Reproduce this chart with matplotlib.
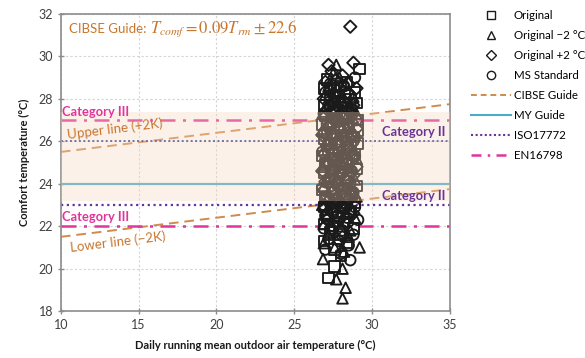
import matplotlib
matplotlib.use("Agg")
import matplotlib.pyplot as plt
from matplotlib.lines import Line2D
import numpy as np

plt.rcParams['font.family'] = ['Lato', 'DejaVu Sans']
plt.rcParams['mathtext.fontset'] = 'stix'

# ---- comfort observations (running mean outdoor temp, comfort temp) ----
orig_x = [29.2, 27.1, 28.4, 26.9, 27.6, 28.0, 28.9, 27.3, 27.8, 28.6, 29.0, 26.9, 27.5, 28.2, 28.7, 27.0,
          27.7, 28.3, 29.1, 26.8, 27.4, 27.9, 28.5, 29.1, 27.1, 27.7, 28.2, 28.8, 26.9, 27.4, 28.0, 28.6,
          29.1, 27.2, 27.8, 28.4, 28.9, 26.8, 27.5, 28.1, 28.7, 27.0, 27.6, 28.3, 29.0, 26.9, 27.4, 27.9,
          28.5, 27.2, 27.8, 28.4, 29.0, 26.8, 27.5, 28.1, 28.7, 27.0, 27.7, 28.3, 28.9, 26.9, 27.4, 28.0,
          28.6, 27.1, 27.8, 28.5, 26.9, 27.5, 28.2, 28.8, 27.3, 27.9, 26.9, 28.4, 27.6, 28.0, 27.6, 27.2]
orig_y = [29.4, 28.9, 28.8, 28.5, 28.4, 28.6, 28.3, 28.1, 27.9, 28.0, 27.8, 27.7, 27.5, 27.6, 27.4, 27.2,
          27.1, 27.3, 27.0, 26.8, 26.9, 26.7, 26.8, 26.5, 26.4, 26.3, 26.5, 26.2, 26.1, 25.9, 26.0, 25.8,
          25.9, 25.6, 25.5, 25.7, 25.4, 25.3, 25.2, 25.1, 25.2, 24.9, 24.8, 24.9, 24.7, 24.5, 24.4, 24.6,
          24.3, 24.1, 24.0, 24.1, 23.9, 23.7, 23.6, 23.8, 23.5, 23.3, 23.2, 23.4, 23.1, 22.9, 22.8, 22.9,
          22.7, 22.5, 22.4, 22.6, 22.1, 22.0, 22.2, 21.9, 21.7, 21.6, 21.3, 21.2, 20.9, 20.6, 20.1, 19.55]

minus2_x = [27.7, 27.5, 27.9, 27.2, 28.3, 27.0, 27.6, 28.8, 27.3, 28.1, 28.6, 26.9, 27.8, 28.4, 29.0, 27.2,
            27.9, 28.6, 26.8, 27.5, 28.2, 28.9, 27.1, 27.7, 28.4, 26.9, 27.5, 28.1, 28.8, 27.2, 27.9, 28.5,
            29.0, 26.8, 27.4, 28.0, 28.7, 27.1, 27.7, 28.3, 28.9, 26.9, 27.5, 28.1, 28.6, 27.2, 27.8, 28.4,
            29.0, 26.8, 27.5, 28.1, 28.7, 27.0, 27.6, 28.3, 28.9, 26.9, 27.4, 28.0, 28.6, 27.2, 27.8, 28.5,
            29.2, 26.9, 27.6, 28.2, 26.85, 28.1, 27.7, 28.3, 28.1]
minus2_y = [29.6, 29.2, 29.0, 28.6, 28.7, 28.2, 28.3, 28.1, 27.8, 27.9, 27.6, 27.4, 27.3, 27.2, 27.3, 26.9,
            27.0, 26.7, 26.5, 26.6, 26.4, 26.3, 26.0, 26.1, 25.9, 25.6, 25.7, 25.5, 25.6, 25.1, 25.3, 25.0,
            25.2, 24.8, 24.7, 24.6, 24.8, 24.3, 24.2, 24.4, 24.2, 23.9, 23.8, 23.9, 23.7, 23.4, 23.5, 23.3,
            23.4, 23.0, 22.9, 23.1, 22.8, 22.6, 22.5, 22.6, 22.4, 22.1, 21.9, 22.0, 21.8, 21.6, 21.4, 21.5,
            21.0, 21.2, 21.0, 20.8, 20.45, 20.0, 19.5, 19.1, 18.6]

plus2_x = [28.6, 27.2, 28.8, 27.4, 28.1, 27.0, 27.7, 28.5, 29.0, 27.3, 27.9, 28.4, 26.9, 27.6, 28.2, 28.8,
           27.1, 27.8, 28.5, 26.9, 27.5, 28.1, 28.7, 27.2, 27.9, 28.4, 29.0, 26.8, 27.5, 28.2, 28.8, 27.1,
           27.7, 28.4, 26.9, 27.4, 28.0, 28.6, 27.2, 27.9, 28.5, 29.0, 26.8, 27.5, 28.1, 28.8, 27.0, 27.7,
           28.3, 26.9, 27.4, 28.0, 28.6, 27.2, 27.9, 28.5, 26.9, 27.6, 28.2, 28.8, 27.1, 27.8, 28.4, 27.4, 28.1]
plus2_y = [31.4, 29.6, 29.7, 29.3, 29.1, 28.8, 28.9, 28.7, 28.5, 28.4, 28.2, 28.3, 28.0, 27.8, 27.9, 27.7,
           27.5, 27.6, 27.4, 27.1, 27.0, 27.2, 26.9, 26.7, 26.6, 26.8, 26.6, 26.3, 26.2, 26.1, 26.3, 25.8,
           25.9, 25.7, 25.4, 25.5, 25.3, 25.5, 25.0, 24.9, 25.1, 24.8, 24.6, 24.5, 24.7, 24.4, 24.1, 24.0,
           24.2, 23.7, 23.6, 23.5, 23.7, 23.2, 23.1, 23.3, 22.8, 22.7, 22.9, 22.6, 22.3, 22.2, 22.1, 21.8, 21.5]

ms_x = [28.9, 27.3, 28.2, 27.0, 27.7, 28.5, 28.0, 27.2, 28.7, 26.9, 27.6, 28.3, 29.0, 27.1, 27.8, 28.5,
        26.9, 27.4, 28.1, 28.8, 27.2, 27.9, 28.5, 26.8, 27.6, 28.2, 28.9, 27.0, 27.7, 28.4, 26.9, 27.5,
        28.1, 28.7, 27.3, 27.9, 28.6, 26.8, 27.4, 28.0, 28.8, 27.1, 27.7, 28.3, 26.9, 27.5, 28.2, 28.9,
        27.0, 27.7, 28.4, 29.1, 26.9, 27.5, 28.1, 28.8, 27.2, 27.9, 28.5, 27.0, 28.0, 28.6]
ms_y = [29.0, 28.7, 28.6, 28.3, 28.1, 28.2, 27.8, 27.7, 27.5, 27.3, 27.4, 27.1, 27.0, 26.8, 26.9, 26.6,
        26.4, 26.3, 26.2, 26.0, 25.9, 25.8, 26.1, 25.5, 25.4, 25.6, 25.3, 25.0, 25.1, 24.9, 24.6, 24.7,
        24.5, 24.6, 24.2, 24.3, 24.0, 23.8, 23.9, 23.7, 23.6, 23.4, 23.3, 23.5, 23.0, 23.1, 22.8, 22.9,
        22.5, 22.6, 22.4, 22.3, 21.9, 22.0, 21.8, 21.6, 21.4, 21.3, 21.1, 20.9, 20.7, 20.4]

# ---- comfort models ----
cibse_slope = 0.09
cibse_intercept = 22.6
cibse_band = 2.0
my_guide = 24.0
iso_upper, iso_lower = 26.0, 23.0
en_upper, en_lower = 27.0, 22.0

x_range = [10, 35]
y_range = [18, 32]

c_cibse = '#d08a4c'
c_cibse_txt = '#c8762e'
c_my = '#4bacc6'
c_iso_top = '#34449c'
c_iso = '#6a3496'
c_en = '#e0359c'
c_band = '#f8d6bd'

fig = plt.figure(figsize=(5.85, 3.58), dpi=100)
ax = fig.add_axes([0.104, 0.131, 0.665, 0.830])

trm = np.array(x_range, dtype=float)
cibse = cibse_slope * trm + cibse_intercept
ax.plot(trm, cibse + cibse_band, color=c_cibse, lw=1.4, ls=(0, (5, 3)), zorder=2)
ax.plot(trm, cibse - cibse_band, color=c_cibse, lw=1.4, ls=(0, (5, 3)), zorder=2)
ax.axhline(my_guide, color=c_my, lw=1.6, zorder=2)
ax.axhline(iso_upper, color=c_iso_top, lw=1.4, ls=(0, (1, 1.3)), zorder=2)
ax.axhline(iso_lower, color=c_iso, lw=1.6, ls=(0, (1, 1.6)), zorder=2)
ax.axhline(en_upper, color=c_en, lw=1.8, ls=(0, (6, 3, 1.2, 3)), zorder=2)
ax.axhline(en_lower, color=c_en, lw=1.8, ls=(0, (6, 3, 1.2, 3)), zorder=2)

mk = dict(facecolors='none', edgecolors='#1a1a1a', linewidths=1.35, s=58, zorder=3)
ax.scatter(orig_x, orig_y, marker='s', **mk)
ax.scatter(minus2_x, minus2_y, marker='^', **mk)
ax.scatter(plus2_x, plus2_y, marker='D', **dict(mk, s=40))
ax.scatter(ms_x, ms_y, marker='o', **mk)

# translucent comfort band
ax.axhspan(23.2, 27.4, color=c_band, alpha=0.33, lw=0, zorder=4)

ax.set_xlim(*x_range)
ax.set_ylim(*y_range)
ax.set_xticks(np.arange(10, 36, 5))
ax.set_yticks(np.arange(18, 33, 2))
ax.grid(True, color='#d4d4d4', ls=(0, (2, 2)), lw=0.8)
ax.set_axisbelow(True)
for s in ax.spines.values():
    s.set_color('#8c8c8c')
    s.set_linewidth(1.2)
ax.tick_params(direction='inout', length=5, width=1, color='#8c8c8c',
               labelsize=9, labelcolor='#404040', pad=3)

ax.set_xlabel('Daily running mean outdoor air temperature (°C)', fontsize=8,
              fontweight='bold', color='#1a1a1a', labelpad=7)
ax.set_ylabel('Comfort temperature (°C)', fontsize=8, fontweight='bold',
              color='#1a1a1a', labelpad=6)

title_txt = ax.text(10.5, 31.3, 'CIBSE Guide:', color=c_cibse_txt,
                    fontsize=9.5, va='center', ha='left', zorder=5)
ax.annotate(r'$T_{comf}=0.09T_{rm}\pm22.6$', xy=(1, 0.5), xycoords=title_txt,
            xytext=(3, 0), textcoords='offset points', color=c_cibse_txt,
            fontsize=12, va='center', ha='left', zorder=5)
ax.text(10.1, 27.38, 'Category III', color=c_en, fontsize=9.3, fontweight='bold',
        va='center', ha='left', zorder=5)
ax.text(10.1, 22.42, 'Category III', color=c_en, fontsize=9.3, fontweight='bold',
        va='center', ha='left', zorder=5)
ax.text(34.7, 26.42, 'Category II', color=c_iso, fontsize=9.3, fontweight='bold',
        va='center', ha='right', zorder=5)
ax.text(34.7, 23.42, 'Category II', color=c_iso, fontsize=9.3, fontweight='bold',
        va='center', ha='right', zorder=5)
ax.text(10.4, 26.3, 'Upper line (+2K)', color=c_cibse_txt, fontsize=9.6, rotation=7,
        va='center', ha='left', zorder=5, rotation_mode='anchor')
ax.text(10.6, 21.0, 'Lower line (\u22122K)', color=c_cibse_txt, fontsize=9.6, rotation=7,
        va='center', ha='left', zorder=5, rotation_mode='anchor')

handles = [
    Line2D([], [], ls='none', marker='s', mfc='none', mec='#1a1a1a', ms=6),
    Line2D([], [], ls='none', marker='^', mfc='none', mec='#1a1a1a', ms=6),
    Line2D([], [], ls='none', marker='D', mfc='none', mec='#1a1a1a', ms=5),
    Line2D([], [], ls='none', marker='o', mfc='none', mec='#1a1a1a', ms=6),
    Line2D([], [], color=c_cibse, lw=1.4, ls=(0, (3, 2))),
    Line2D([], [], color=c_my, lw=1.5),
    Line2D([], [], color=c_iso, lw=1.5, ls=(0, (1, 1.2))),
    Line2D([], [], color=c_en, lw=1.8, ls=(0, (4, 2.5, 1, 2.5))),
]
labels = ['Original', 'Original \u22122 °C', 'Original +2 °C', 'MS Standard',
          'CIBSE Guide', 'MY Guide', 'ISO17772', 'EN16798']
fig.legend(handles, labels, loc='upper left', bbox_to_anchor=(0.797, 0.985),
           frameon=False, fontsize=8.3, handlelength=3.5, handletextpad=0.2,
           labelspacing=0.78, borderaxespad=0)

fig.savefig('out.png', dpi=100)
